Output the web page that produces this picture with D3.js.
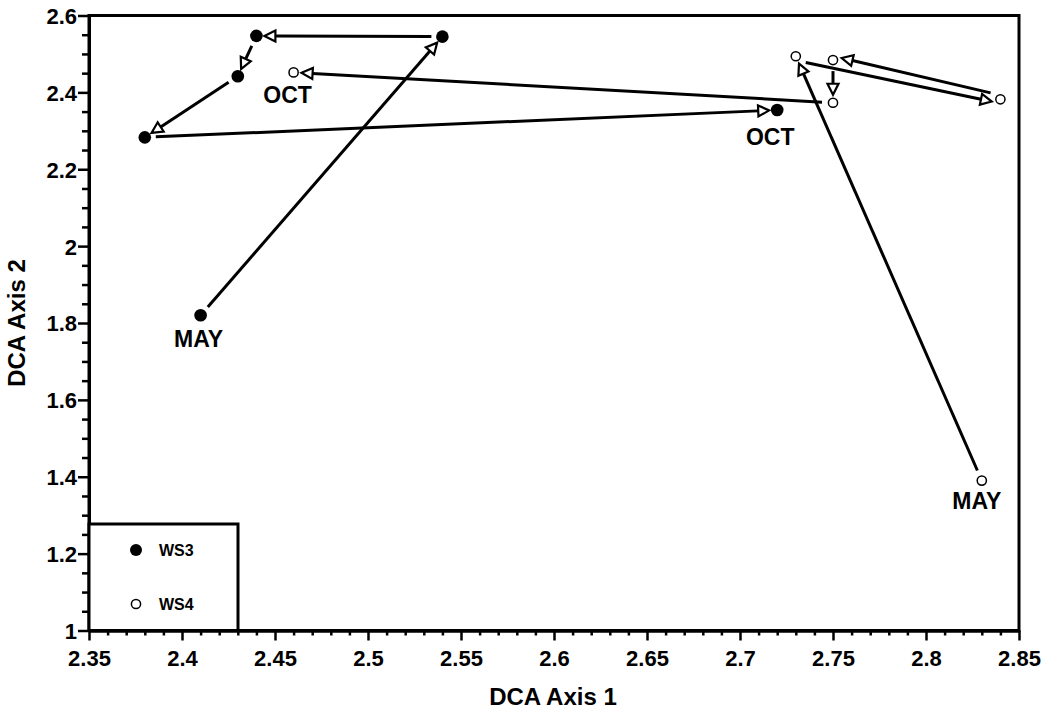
<!DOCTYPE html>
<html>
<head>
<meta charset="utf-8">
<script src="https://cdn.jsdelivr.net/npm/d3@7"></script>
<style>
  html, body { margin: 0; padding: 0; background: #fff; }
  svg { display: block; }
  svg text { font-family: "Liberation Sans", Arial, Helvetica, sans-serif; font-weight: bold; fill: #000; }
</style>
</head>
<body>
<svg id="chart" width="1051" height="709"></svg>
<script>
// ---- data ----
const ws3X = [2.41, 2.54, 2.44, 2.43, 2.38, 2.72];
const ws3Y = [1.82, 2.545, 2.547, 2.442, 2.283, 2.354];
const ws4X = [2.83, 2.73, 2.84, 2.75, 2.75, 2.46];
const ws4Y = [1.39, 2.494, 2.382, 2.484, 2.373, 2.452];
const seriesNames = ["WS3", "WS4"];
const monthLabels = ["MAY", "OCT"];
const xMajorTicks = [2.35, 2.4, 2.45, 2.5, 2.55, 2.6, 2.65, 2.7, 2.75, 2.8, 2.85];
const yMajorTicks = [1, 1.2, 1.4, 1.6, 1.8, 2, 2.2, 2.4, 2.6];
const xTitle = "DCA Axis 1";
const yTitle = "DCA Axis 2";

// ---- layout ----
const L = 89, R = 1019, T = 15.5, B = 630.5;
const svg = d3.select("#chart");

const x = d3.scaleLinear().domain([2.35, 2.85]).range([L, R]);
const y = d3.scaleLinear().domain([1, 2.6]).range([B, T]);

const xMinor = d3.range(0, 51).map(i => +(2.35 + i * 0.01).toFixed(2))
  .filter(v => !xMajorTicks.some(m => Math.abs(m - v) < 1e-9));
const yMinor = d3.range(0, 33).map(i => +(1 + i * 0.05).toFixed(2))
  .filter(v => !yMajorTicks.some(m => Math.abs(m - v) < 1e-9));

// frame
svg.append("rect")
  .attr("x", L).attr("y", T).attr("width", R - L).attr("height", B - T)
  .attr("fill", "none").attr("stroke", "#000").attr("stroke-width", 3);

const fmt = d3.format("~g");

// x axis
const gx = svg.append("g").attr("transform", `translate(0,${B})`);
gx.call(d3.axisBottom(x).tickValues(xMajorTicks).tickSize(10).tickSizeOuter(0).tickFormat(fmt));
const gxm = svg.append("g").attr("transform", `translate(0,${B})`);
gxm.call(d3.axisBottom(x).tickValues(xMinor).tickSize(5).tickSizeOuter(0).tickFormat(""));

// y axis
const gy = svg.append("g").attr("transform", `translate(${L},0)`);
gy.call(d3.axisLeft(y).tickValues(yMajorTicks).tickSize(11).tickSizeOuter(0).tickFormat(fmt));
const gym = svg.append("g").attr("transform", `translate(${L},0)`);
gym.call(d3.axisLeft(y).tickValues(yMinor).tickSize(7).tickSizeOuter(0).tickFormat(""));

[gx, gxm, gy, gym].forEach(g => {
  g.attr("font-family", null);
  g.select(".domain").attr("stroke", "#000").attr("stroke-width", 3);
  g.selectAll(".tick line").attr("stroke", "#000").attr("stroke-width", 2.5);
});
gx.selectAll(".tick text").attr("font-size", 22).attr("y", 35.5).attr("dy", 0);
gy.selectAll(".tick text").attr("font-size", 22).attr("x", -12).attr("dy", "0.36em");

// axis titles
svg.append("text").attr("x", 553).attr("y", 705)
  .attr("text-anchor", "middle").attr("font-size", 24).text(xTitle);
svg.append("text").attr("transform", `translate(25,${(T + B) / 2}) rotate(-90)`)
  .attr("text-anchor", "middle").attr("font-size", 24).text(yTitle);

// arrows (line + open triangular head); off = perpendicular offset of a segment
const gapStart = 11, tipGap = 8, headLen = 11, headHalf = 5.5;
function drawPath(xs, ys, offsets) {
  const g = svg.append("g");
  for (let i = 0; i < xs.length - 1; i++) {
    const off = offsets[i] || 0;
    const x0 = x(xs[i]), y0 = y(ys[i]), x1 = x(xs[i + 1]), y1 = y(ys[i + 1]);
    const dx = x1 - x0, dy = y1 - y0, len = Math.hypot(dx, dy);
    const ux = dx / len, uy = dy / len, px = -uy, py = ux;
    const sx = x0 + ux * gapStart + px * off, sy = y0 + uy * gapStart + py * off;
    const tx = x1 - ux * tipGap + px * off, ty = y1 - uy * tipGap + py * off;
    const bx = tx - ux * headLen, by = ty - uy * headLen;
    g.append("line").attr("x1", sx).attr("y1", sy).attr("x2", bx).attr("y2", by)
      .attr("stroke", "#000").attr("stroke-width", 3);
    g.append("path")
      .attr("d", `M${tx},${ty}L${bx + px * headHalf},${by + py * headHalf}L${bx - px * headHalf},${by - py * headHalf}Z`)
      .attr("fill", "#fff").attr("stroke", "#000").attr("stroke-width", 2.2).attr("stroke-linejoin", "miter");
  }
}
drawPath(ws3X, ws3Y, []);
drawPath(ws4X, ws4Y, [0, 4, 4, 0, 0]);

// points
svg.append("g").selectAll("circle").data(ws3X.map((v, i) => [v, ws3Y[i]])).join("circle")
  .attr("cx", d => x(d[0])).attr("cy", d => y(d[1])).attr("r", 6.3).attr("fill", "#000");
svg.append("g").selectAll("circle").data(ws4X.map((v, i) => [v, ws4Y[i]])).join("circle")
  .attr("cx", d => x(d[0])).attr("cy", d => y(d[1])).attr("r", 4.6)
  .attr("fill", "#fff").attr("stroke", "#000").attr("stroke-width", 1.5);

// month labels
const lab = [
  [ws3X[0], ws3Y[0], monthLabels[0], -2, 32],
  [ws3X[5], ws3Y[5], monthLabels[1], -7, 35],
  [ws4X[0], ws4Y[0], monthLabels[0], -5, 28],
  [ws4X[5], ws4Y[5], monthLabels[1], -6, 31]
];
svg.append("g").selectAll("text").data(lab).join("text")
  .attr("x", d => x(d[0]) + d[3]).attr("y", d => y(d[1]) + d[4])
  .attr("text-anchor", "middle").attr("font-size", 23).text(d => d[2]);

// legend
const lg = svg.append("g");
lg.append("rect").attr("x", L).attr("y", 524).attr("width", 238 - L).attr("height", B - 524)
  .attr("fill", "#fff").attr("stroke", "#000").attr("stroke-width", 3);
lg.append("circle").attr("cx", 136).attr("cy", 550).attr("r", 6).attr("fill", "#000");
lg.append("circle").attr("cx", 136).attr("cy", 604).attr("r", 4.6).attr("fill", "#fff").attr("stroke", "#000").attr("stroke-width", 1.5);
lg.append("text").attr("x", 159).attr("y", 556).attr("font-size", 16).text(seriesNames[0]);
lg.append("text").attr("x", 159).attr("y", 610).attr("font-size", 16).text(seriesNames[1]);
</script>
</body>
</html>
